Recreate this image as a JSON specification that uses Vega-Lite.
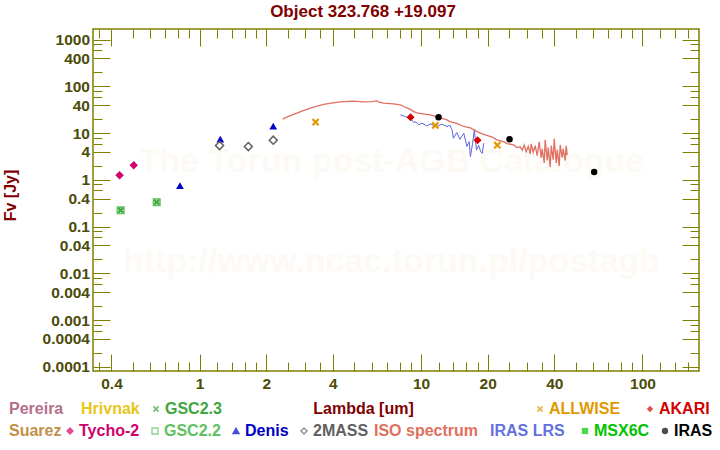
{
  "$schema": "https://vega.github.io/schema/vega-lite/v6.json",
  "width": 606,
  "height": 342,
  "autosize": {"type": "none"},
  "padding": {"left": 93, "top": 29, "right": 21, "bottom": 79},
  "background": "white",
  "title": {"text": "Object 323.768 +19.097", "font": "Liberation Sans", "fontSize": 17, "fontWeight": "bold", "color": "#800000", "anchor": "middle", "frame": "group", "dx": -33, "dy": 15, "offset": 10, "baseline": "alphabetic"},
  "params": [
    {"name": "cmap", "value": {"Pereira": "#b36f8c", "Hrivnak": "#e8c61a", "GSC2.3": "#3ea63e", "ALLWISE": "#e09a00", "AKARI": "#d40000", "Suarez": "#c29048", "Tycho-2": "#d0006c", "GSC2.2": "#5fc25f", "Denis": "#0000c8", "2MASS": "#606060", "ISO spectrum": "#e07060", "IRAS LRS": "#6470e0", "MSX6C": "#00c400", "IRAS": "#000000"}},
    {"name": "smap", "value": {"GSC2.3": "M-1,-0.6L-0.6,-1L0,-0.4L0.6,-1L1,-0.6L0.4,0L1,0.6L0.6,1L0,0.4L-0.6,1L-1,0.6L-0.4,0Z", "ALLWISE": "M-1,-0.6L-0.6,-1L0,-0.4L0.6,-1L1,-0.6L0.4,0L1,0.6L0.6,1L0,0.4L-0.6,1L-1,0.6L-0.4,0Z", "AKARI": "diamond", "Tycho-2": "diamond", "GSC2.2": "square", "Denis": "triangle-up", "2MASS": "diamond", "MSX6C": "square", "IRAS": "circle"}}
  ],
  "config": {
    "view": {"stroke": "#808000", "strokeWidth": 1.5},
    "axis": {"tickColor": "#808000", "tickWidth": 1, "domain": false, "grid": false, "labelFont": "Liberation Sans", "labelFontWeight": "bold", "labelFontSize": 15.5, "labelColor": "#4b4b0a", "labelOverlap": false, "labelFlush": false, "labelBound": false, "titleFont": "Liberation Sans", "titleFontSize": 16, "titleFontWeight": "bold", "titleColor": "#800000"},
    "legend": {"labelFont": "Liberation Sans", "labelFontSize": 16, "labelFontWeight": "bold", "padding": 0, "direction": "horizontal", "symbolSize": 40, "symbolStrokeWidth": 1.5, "symbolOffset": -5, "labelOffset": 1}
  },
  "data": {"values": [
    {"source": "ISO", "lambda": 2.37, "flux": 20.0}, {"source": "ISO", "lambda": 2.5, "flux": 22.5}, {"source": "ISO", "lambda": 2.75, "flux": 26.9}, {"source": "ISO", "lambda": 3.0, "flux": 31.5}, {"source": "ISO", "lambda": 3.27, "flux": 36.1}, {"source": "ISO", "lambda": 3.63, "flux": 41.1}, {"source": "ISO", "lambda": 4.0, "flux": 44.5}, {"source": "ISO", "lambda": 4.32, "flux": 46.9}, {"source": "ISO", "lambda": 4.7, "flux": 48.0}, {"source": "ISO", "lambda": 4.96, "flux": 48.6}, {"source": "ISO", "lambda": 5.5, "flux": 46.9}, {"source": "ISO", "lambda": 6.0, "flux": 47.3}, {"source": "ISO", "lambda": 6.2, "flux": 48.5}, {"source": "ISO", "lambda": 6.32, "flux": 49.5}, {"source": "ISO", "lambda": 6.45, "flux": 46.0}, {"source": "ISO", "lambda": 6.77, "flux": 44.0}, {"source": "ISO", "lambda": 7.5, "flux": 42.5}, {"source": "ISO", "lambda": 8.06, "flux": 40.5}, {"source": "ISO", "lambda": 8.34, "flux": 37.2}, {"source": "ISO", "lambda": 8.8, "flux": 33.5}, {"source": "ISO", "lambda": 9.28, "flux": 29.0}, {"source": "ISO", "lambda": 9.58, "flux": 27.2}, {"source": "ISO", "lambda": 10.2, "flux": 26.0}, {"source": "ISO", "lambda": 11.0, "flux": 24.7}, {"source": "ISO", "lambda": 11.4, "flux": 23.5}, {"source": "ISO", "lambda": 12.2, "flux": 21.3}, {"source": "ISO", "lambda": 13.1, "flux": 19.3}, {"source": "ISO", "lambda": 13.5, "flux": 17.7}, {"source": "ISO", "lambda": 14.5, "flux": 16.2}, {"source": "ISO", "lambda": 15.6, "flux": 13.9}, {"source": "ISO", "lambda": 16.7, "flux": 13.0}, {"source": "ISO", "lambda": 17.5, "flux": 11.5}, {"source": "ISO", "lambda": 18.5, "flux": 10.0}, {"source": "ISO", "lambda": 19.8, "flux": 9.0}, {"source": "ISO", "lambda": 21.0, "flux": 8.2}, {"source": "ISO", "lambda": 22.0, "flux": 7.2}, {"source": "ISO", "lambda": 23.6, "flux": 6.6}, {"source": "ISO", "lambda": 24.5, "flux": 6.0}, {"source": "ISO", "lambda": 26.2, "flux": 5.6}, {"source": "ISO", "lambda": 27.1, "flux": 4.9},
    {"source": "ISO", "lambda": 28.05, "flux": 5.1}, {"source": "ISO", "lambda": 28.63, "flux": 4.3}, {"source": "ISO", "lambda": 29.24, "flux": 5.6}, {"source": "ISO", "lambda": 29.85, "flux": 4.0}, {"source": "ISO", "lambda": 30.48, "flux": 5.2}, {"source": "ISO", "lambda": 31.12, "flux": 3.6}, {"source": "ISO", "lambda": 31.45, "flux": 5.9}, {"source": "ISO", "lambda": 32.1, "flux": 3.9}, {"source": "ISO", "lambda": 32.78, "flux": 5.4}, {"source": "ISO", "lambda": 33.46, "flux": 3.3}, {"source": "ISO", "lambda": 34.17, "flux": 6.5}, {"source": "ISO", "lambda": 34.88, "flux": 3.0}, {"source": "ISO", "lambda": 35.25, "flux": 4.6}, {"source": "ISO", "lambda": 35.99, "flux": 2.3}, {"source": "ISO", "lambda": 36.36, "flux": 7.2}, {"source": "ISO", "lambda": 37.13, "flux": 2.6}, {"source": "ISO", "lambda": 37.52, "flux": 4.9}, {"source": "ISO", "lambda": 38.31, "flux": 1.9}, {"source": "ISO", "lambda": 38.71, "flux": 5.4}, {"source": "ISO", "lambda": 39.52, "flux": 2.7}, {"source": "ISO", "lambda": 39.94, "flux": 7.6}, {"source": "ISO", "lambda": 40.77, "flux": 2.3}, {"source": "ISO", "lambda": 41.2, "flux": 4.4}, {"source": "ISO", "lambda": 42.07, "flux": 2.0}, {"source": "ISO", "lambda": 42.5, "flux": 5.6}, {"source": "ISO", "lambda": 43.4, "flux": 3.0}, {"source": "ISO", "lambda": 43.85, "flux": 4.6}, {"source": "ISO", "lambda": 44.77, "flux": 2.6}, {"source": "ISO", "lambda": 45.24, "flux": 5.4}, {"source": "ISO", "lambda": 45.72, "flux": 3.4},
    {"source": "LRS", "lambda": 8.06, "flux": 24.7}, {"source": "LRS", "lambda": 8.5, "flux": 22.5}, {"source": "LRS", "lambda": 8.94, "flux": 21.0}, {"source": "LRS", "lambda": 9.28, "flux": 16.9}, {"source": "LRS", "lambda": 9.5, "flux": 17.5}, {"source": "LRS", "lambda": 9.75, "flux": 15.1}, {"source": "LRS", "lambda": 10.1, "flux": 16.4}, {"source": "LRS", "lambda": 10.6, "flux": 14.3}, {"source": "LRS", "lambda": 11.0, "flux": 15.8}, {"source": "LRS", "lambda": 11.4, "flux": 14.5}, {"source": "LRS", "lambda": 11.8, "flux": 13.9}, {"source": "LRS", "lambda": 12.4, "flux": 15.6}, {"source": "LRS", "lambda": 13.1, "flux": 13.9}, {"source": "LRS", "lambda": 13.5, "flux": 14.8}, {"source": "LRS", "lambda": 13.8, "flux": 11.8}, {"source": "LRS", "lambda": 14.0, "flux": 7.8}, {"source": "LRS", "lambda": 14.5, "flux": 10.3}, {"source": "LRS", "lambda": 15.0, "flux": 7.4}, {"source": "LRS", "lambda": 15.6, "flux": 10.0}, {"source": "LRS", "lambda": 16.1, "flux": 5.2}, {"source": "LRS", "lambda": 16.5, "flux": 6.6}, {"source": "LRS", "lambda": 16.7, "flux": 3.16}, {"source": "LRS", "lambda": 17.1, "flux": 6.1}, {"source": "LRS", "lambda": 17.4, "flux": 11.8}, {"source": "LRS", "lambda": 17.8, "flux": 4.4}, {"source": "LRS", "lambda": 18.2, "flux": 5.5}, {"source": "LRS", "lambda": 18.6, "flux": 4.0}, {"source": "LRS", "lambda": 18.9, "flux": 3.7}, {"source": "LRS", "lambda": 19.2, "flux": 6.1},
    {"source": "Tycho-2", "lambda": 0.435, "flux": 1.26}, {"source": "Tycho-2", "lambda": 0.504, "flux": 2.07},
    {"source": "GSC2.3", "lambda": 0.44, "flux": 0.224}, {"source": "GSC2.3", "lambda": 0.64, "flux": 0.333},
    {"source": "GSC2.2", "lambda": 0.44, "flux": 0.224}, {"source": "GSC2.2", "lambda": 0.64, "flux": 0.333},
    {"source": "Denis", "lambda": 0.815, "flux": 0.755}, {"source": "Denis", "lambda": 1.24, "flux": 7.45}, {"source": "Denis", "lambda": 2.15, "flux": 14.2},
    {"source": "2MASS", "lambda": 1.23, "flux": 5.43}, {"source": "2MASS", "lambda": 1.66, "flux": 5.17}, {"source": "2MASS", "lambda": 2.15, "flux": 7.09},
    {"source": "ALLWISE", "lambda": 3.34, "flux": 17.2}, {"source": "ALLWISE", "lambda": 11.6, "flux": 14.6}, {"source": "ALLWISE", "lambda": 22.1, "flux": 5.54},
    {"source": "AKARI", "lambda": 8.97, "flux": 22.0}, {"source": "AKARI", "lambda": 18.0, "flux": 7.09},
    {"source": "IRAS", "lambda": 12.0, "flux": 22.0}, {"source": "IRAS", "lambda": 25.1, "flux": 7.45}, {"source": "IRAS", "lambda": 60.5, "flux": 1.48}
  ]},
  "layer": [
    {
      "data": {"values": [{"t": "The Torun post-AGB Catalogue"}]},
      "mark": {"type": "text", "font": "Liberation Sans", "fontWeight": "bold", "fontSize": 34, "color": "#fdf9f4", "align": "center", "baseline": "middle"},
      "encoding": {"x": {"datum": 7.34, "type": "quantitative", "axis": null}, "y": {"datum": 2.43, "type": "quantitative", "axis": null}, "text": {"field": "t"}}
    },
    {
      "data": {"values": [{"t": "http://www.ncac.torun.pl/postagb"}]},
      "mark": {"type": "text", "font": "Liberation Sans", "fontWeight": "bold", "fontSize": 34, "color": "#fdf9f4", "align": "center", "baseline": "middle"},
      "encoding": {"x": {"datum": 7.34, "type": "quantitative", "axis": null}, "y": {"datum": 0.0175, "type": "quantitative", "axis": null}, "text": {"field": "t"}}
    },
    {
      "transform": [{"filter": "datum.source === 'LRS'"}],
      "mark": {"type": "line", "color": "#5a64e0", "strokeWidth": 1},
      "encoding": {
        "x": {"field": "lambda", "type": "quantitative", "scale": {"type": "log", "domain": [0.33, 180], "nice": false},
          "axis": {"orient": "top", "values": [0.35, 0.4, 0.5, 0.6, 0.7, 0.8, 0.9, 1, 1.2, 1.4, 1.6, 1.8, 2, 2.5, 3, 3.5, 4, 5, 6, 7, 8, 9, 10, 12, 14, 16, 18, 20, 25, 30, 35, 40, 50, 60, 70, 80, 90, 100, 120, 140, 160], "labels": false, "title": null,
            "tickSize": {"condition": {"test": "indexof([0.4,1,2,4,10,20,40,100], datum.value) >= 0", "value": -17}, "value": -9}}},
        "y": {"field": "flux", "type": "quantitative", "scale": {"type": "log", "domain": [0.000082, 1690], "nice": false},
          "axis": {"orient": "right", "values": [0.0001, 0.0002, 0.0004, 0.0006, 0.0008, 0.001, 0.002, 0.004, 0.006, 0.008, 0.01, 0.02, 0.04, 0.06, 0.08, 0.1, 0.2, 0.4, 0.6, 0.8, 1, 2, 4, 6, 8, 10, 20, 40, 60, 80, 100, 200, 400, 600, 800, 1000], "labels": false, "title": null,
            "tickSize": {"condition": {"test": "indexof([1000,400,100,40,10,4,1,0.4,0.1,0.04,0.01,0.004,0.001,0.0004,0.0001], datum.value) >= 0", "value": -17}, "value": -9}}}
      }
    },
    {
      "transform": [{"filter": "datum.source === 'ISO'"}],
      "mark": {"type": "line", "color": "#e07060", "strokeWidth": 1.3},
      "encoding": {
        "x": {"field": "lambda", "type": "quantitative",
          "axis": {"orient": "bottom", "values": [0.35, 0.4, 0.5, 0.6, 0.7, 0.8, 0.9, 1, 1.2, 1.4, 1.6, 1.8, 2, 2.5, 3, 3.5, 4, 5, 6, 7, 8, 9, 10, 12, 14, 16, 18, 20, 25, 30, 35, 40, 50, 60, 70, 80, 90, 100, 120, 140, 160], "format": "~g",
            "labelExpr": "indexof([0.4,1,2,4,10,20,40,100], datum.value) >= 0 ? datum.label : ''",
            "tickSize": {"condition": {"test": "indexof([0.4,1,2,4,10,20,40,100], datum.value) >= 0", "value": -17}, "value": -9},
            "labelPadding": 22, "title": "Lambda [um]", "titleX": 270, "titleY": 37, "titleBaseline": "middle", "titleAlign": "center"}},
        "y": {"field": "flux", "type": "quantitative",
          "axis": {"orient": "left", "values": [0.0001, 0.0002, 0.0004, 0.0006, 0.0008, 0.001, 0.002, 0.004, 0.006, 0.008, 0.01, 0.02, 0.04, 0.06, 0.08, 0.1, 0.2, 0.4, 0.6, 0.8, 1, 2, 4, 6, 8, 10, 20, 40, 60, 80, 100, 200, 400, 600, 800, 1000], "format": "~g",
            "labelExpr": "indexof([1000,400,100,40,10,4,1,0.4,0.1,0.04,0.01,0.004,0.001,0.0004,0.0001], datum.value) >= 0 ? datum.label : ''",
            "tickSize": {"condition": {"test": "indexof([1000,400,100,40,10,4,1,0.4,0.1,0.04,0.01,0.004,0.001,0.0004,0.0001], datum.value) >= 0", "value": -17}, "value": -9},
            "labelPadding": 20.5, "title": "Fv [Jy]", "titleX": -83, "titleY": 166, "titleBaseline": "middle", "titleAlign": "center"}}
      }
    },
    {
      "transform": [{"filter": "datum.source === 'GSC2.3'"}],
      "mark": {"type": "point", "filled": true, "shape": "M-1,-0.6L-0.6,-1L0,-0.4L0.6,-1L1,-0.6L0.4,0L1,0.6L0.6,1L0,0.4L-0.6,1L-1,0.6L-0.4,0Z", "size": 55, "color": "#3ea63e", "opacity": 1},
      "encoding": {"x": {"field": "lambda", "type": "quantitative", "axis": null}, "y": {"field": "flux", "type": "quantitative", "axis": null}}
    },
    {
      "transform": [{"filter": "datum.source === 'GSC2.2'"}],
      "mark": {"type": "point", "filled": false, "shape": "square", "size": 42, "color": "#5fc25f", "strokeWidth": 1.6, "opacity": 1},
      "encoding": {"x": {"field": "lambda", "type": "quantitative", "axis": null}, "y": {"field": "flux", "type": "quantitative", "axis": null}}
    },
    {
      "transform": [{"filter": "datum.source === 'Tycho-2'"}],
      "mark": {"type": "point", "filled": true, "shape": "diamond", "size": 72, "color": "#d0006c", "opacity": 1},
      "encoding": {"x": {"field": "lambda", "type": "quantitative", "axis": null}, "y": {"field": "flux", "type": "quantitative", "axis": null}}
    },
    {
      "transform": [{"filter": "datum.source === 'Denis'"}],
      "mark": {"type": "point", "filled": true, "shape": "triangle-up", "size": 60, "color": "#0000c8", "opacity": 1},
      "encoding": {"x": {"field": "lambda", "type": "quantitative", "axis": null}, "y": {"field": "flux", "type": "quantitative", "axis": null}}
    },
    {
      "transform": [{"filter": "datum.source === '2MASS'"}],
      "mark": {"type": "point", "filled": false, "shape": "diamond", "size": 64, "color": "#606060", "strokeWidth": 1.5, "opacity": 1},
      "encoding": {"x": {"field": "lambda", "type": "quantitative", "axis": null}, "y": {"field": "flux", "type": "quantitative", "axis": null}}
    },
    {
      "transform": [{"filter": "datum.source === 'ALLWISE'"}],
      "mark": {"type": "point", "filled": true, "shape": "M-1,-0.6L-0.6,-1L0,-0.4L0.6,-1L1,-0.6L0.4,0L1,0.6L0.6,1L0,0.4L-0.6,1L-1,0.6L-0.4,0Z", "size": 60, "color": "#e09a00", "opacity": 1},
      "encoding": {"x": {"field": "lambda", "type": "quantitative", "axis": null}, "y": {"field": "flux", "type": "quantitative", "axis": null}}
    },
    {
      "transform": [{"filter": "datum.source === 'AKARI'"}],
      "mark": {"type": "point", "filled": true, "shape": "diamond", "size": 64, "color": "#d40000", "opacity": 1},
      "encoding": {"x": {"field": "lambda", "type": "quantitative", "axis": null}, "y": {"field": "flux", "type": "quantitative", "axis": null}}
    },
    {
      "transform": [{"filter": "datum.source === 'IRAS'"}],
      "mark": {"type": "point", "filled": true, "shape": "circle", "size": 42, "color": "#000000", "opacity": 1},
      "encoding": {"x": {"field": "lambda", "type": "quantitative", "axis": null}, "y": {"field": "flux", "type": "quantitative", "axis": null}}
    },
    {
      "transform": [{"filter": "false"}],
      "mark": {"type": "point", "filled": true},
      "encoding": {"color": {"field": "s", "type": "nominal", "scale": {"domain": ["Pereira", "Hrivnak"], "range": ["#b36f8c", "#e8c61a"]},
        "legend": {"orient": "none", "legendX": -76, "legendY": 372, "title": null, "columnPadding": 17, "symbolSize": 0, "symbolStrokeWidth": 0, "symbolOpacity": 0, "symbolOffset": -8, "labelOffset": -16,
          "labelColor": {"expr": "cmap[datum.value]"}}}}
    },
    {
      "transform": [{"filter": "false"}],
      "mark": {"type": "point", "filled": true},
      "encoding": {"color": {"field": "s", "type": "nominal", "scale": {"domain": ["GSC2.3"], "range": ["#3ea63e"]},
        "legend": {"orient": "none", "legendX": 60, "legendY": 372, "title": null,
          "symbolType": {"expr": "smap[datum.value]"}, "labelColor": {"expr": "cmap[datum.value]"}}}}
    },
    {
      "transform": [{"filter": "false"}],
      "mark": {"type": "point", "filled": true},
      "encoding": {"color": {"field": "s", "type": "nominal", "scale": {"domain": ["ALLWISE", "AKARI"], "range": ["#e09a00", "#d40000"]},
        "legend": {"orient": "none", "legendX": 444, "legendY": 372, "title": null, "columnPadding": 25,
          "symbolType": {"expr": "smap[datum.value]"}, "labelColor": {"expr": "cmap[datum.value]"}}}}
    },
    {
      "transform": [{"filter": "false"}],
      "mark": {"type": "point", "filled": true},
      "encoding": {"color": {"field": "s", "type": "nominal", "scale": {"domain": ["Suarez"], "range": ["#c29048"]},
        "legend": {"orient": "none", "legendX": -76, "legendY": 394, "title": null, "symbolSize": 0, "symbolStrokeWidth": 0, "symbolOpacity": 0, "symbolOffset": -8, "labelOffset": -16,
          "labelColor": {"expr": "cmap[datum.value]"}}}}
    },
    {
      "transform": [{"filter": "false"}],
      "mark": {"type": "point"},
      "encoding": {
        "fill": {"field": "s", "type": "nominal", "scale": {"domain": ["Tycho-2", "GSC2.2", "Denis", "2MASS"], "range": ["#d0006c", "transparent", "#0000c8", "transparent"]},
          "legend": {"orient": "none", "legendX": -26, "legendY": 394, "title": null, "columnPadding": 9, "symbolSize": 36, "symbolStrokeWidth": 1.4,
            "symbolType": {"expr": "smap[datum.value]"}, "labelColor": {"expr": "cmap[datum.value]"}}},
        "stroke": {"field": "s", "type": "nominal", "scale": {"domain": ["Tycho-2", "GSC2.2", "Denis", "2MASS"], "range": ["#d0006c", "#5fc25f", "#0000c8", "#606060"]},
          "legend": {"orient": "none", "legendX": -26, "legendY": 394, "title": null, "columnPadding": 9, "symbolSize": 36, "symbolStrokeWidth": 1.4,
            "symbolType": {"expr": "smap[datum.value]"}, "labelColor": {"expr": "cmap[datum.value]"}}}
      }
    },
    {
      "transform": [{"filter": "false"}],
      "mark": {"type": "point", "filled": true},
      "encoding": {"color": {"field": "s", "type": "nominal", "scale": {"domain": ["ISO spectrum", "IRAS LRS"], "range": ["#e07060", "#6470e0"]},
        "legend": {"orient": "none", "legendX": 289, "legendY": 394, "title": null, "columnPadding": 11, "symbolSize": 0, "symbolStrokeWidth": 0, "symbolOpacity": 0, "symbolOffset": -8, "labelOffset": -16,
          "labelColor": {"expr": "cmap[datum.value]"}}}}
    },
    {
      "transform": [{"filter": "false"}],
      "mark": {"type": "point", "filled": true},
      "encoding": {"color": {"field": "s", "type": "nominal", "scale": {"domain": ["MSX6C", "IRAS"], "range": ["#00c400", "#000000"]},
        "legend": {"orient": "none", "legendX": 489, "legendY": 394, "title": null, "columnPadding": 11,
          "symbolType": {"expr": "smap[datum.value]"}, "labelColor": {"expr": "cmap[datum.value]"}}}}
    }
  ],
  "resolve": {"axis": {"x": "independent", "y": "independent"}, "scale": {"color": "independent", "fill": "independent", "stroke": "independent"}, "legend": {"color": "independent", "fill": "independent", "stroke": "independent"}}
}
